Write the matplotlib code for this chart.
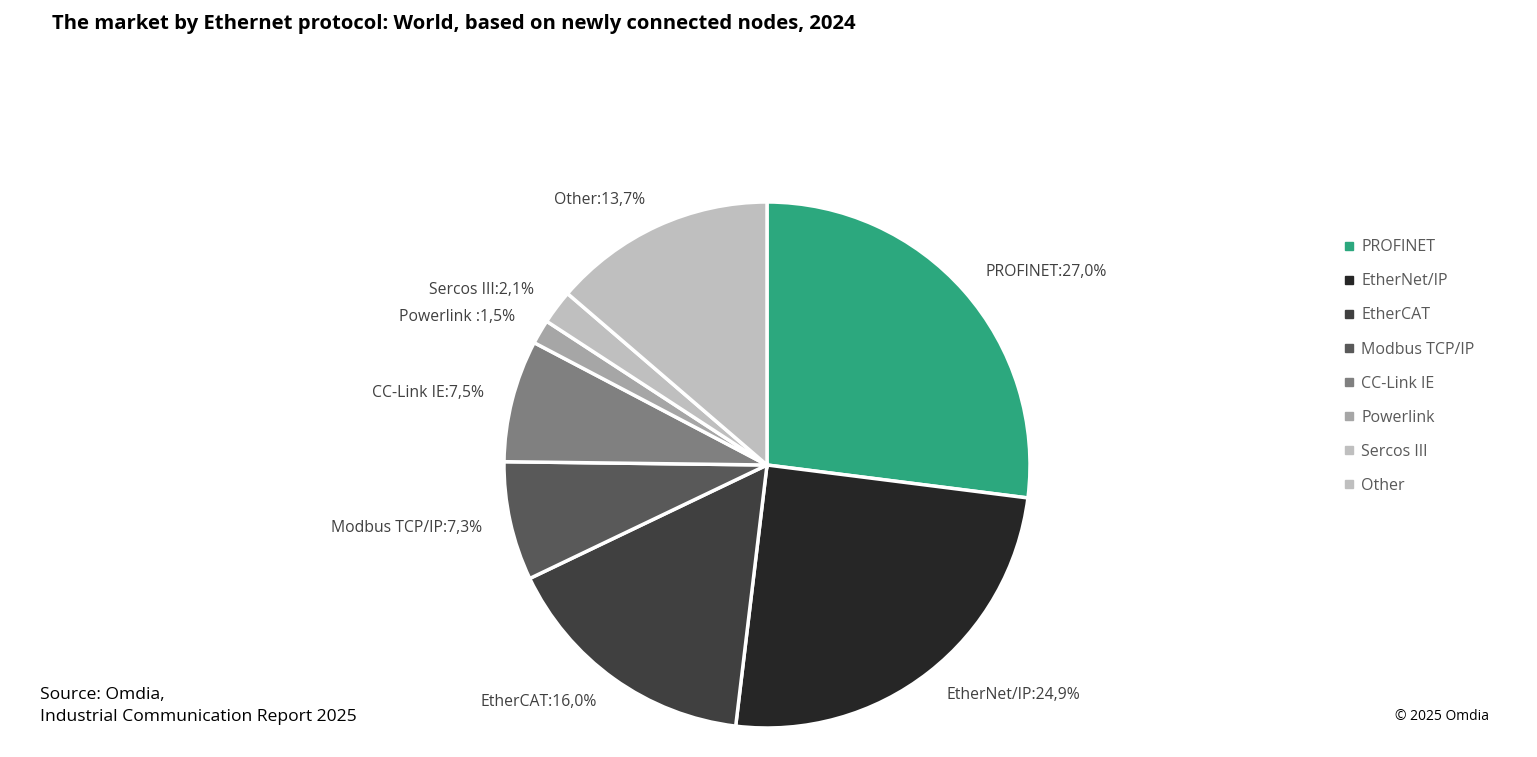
import matplotlib.pyplot as plt
from matplotlib.lines import Line2D

protocols = ['PROFINET', 'EtherNet/IP', 'EtherCAT', 'Modbus TCP/IP',
             'CC-Link IE', 'Powerlink', 'Sercos III', 'Other']
label_names = ['PROFINET', 'EtherNet/IP', 'EtherCAT', 'Modbus TCP/IP',
               'CC-Link IE', 'Powerlink ', 'Sercos III', 'Other']
shares = [27.0, 24.9, 16.0, 7.3, 7.5, 1.5, 2.1, 13.7]
colors = ['#2ca87e', '#262626', '#404040', '#595959',
          '#808080', '#a6a6a6', '#bfbfbf', '#bfbfbf']

plt.rcParams['font.family'] = ['Open Sans', 'DejaVu Sans']

W, H = 1537, 757
fig = plt.figure(figsize=(W / 100, H / 100), dpi=100)

# pie centre and radius in pixels
cx, cy, r = 767, 465, 263
ax = fig.add_axes([(cx - r) / W, (H - cy - r) / H, 2 * r / W, 2 * r / H])

labels = [f'{n}:{v:.1f}%'.replace('.', ',') for n, v in zip(label_names, shares)]
wedges, texts = ax.pie(shares, colors=colors, startangle=90, counterclock=False,
                       labels=labels, labeldistance=1.11,
                       wedgeprops=dict(edgecolor='white', linewidth=2.5),
                       textprops=dict(fontsize=11.3, color='#404040'))
ax.set_xlim(-1, 1)
ax.set_ylim(-1, 1)
ax.set_aspect('equal')
ax.axis('off')

handles = [Line2D([], [], marker='s', linestyle='none', markersize=5.5,
                  markerfacecolor=c, markeredgecolor=c) for c in colors]
leg = fig.legend(handles, protocols, loc='upper left',
                 bbox_to_anchor=(1338 / W, 1 - 233 / H), frameon=False,
                 handlelength=0.6, handletextpad=0.45, labelspacing=1.13,
                 fontsize=11.5, borderaxespad=0)
for t in leg.get_texts():
    t.set_color('#595959')

fig.text(52 / W, 1 - 24 / H,
         'The market by Ethernet protocol: World, based on newly connected nodes, 2024',
         fontsize=14.6, fontweight='bold', color='black', va='center')
fig.text(40 / W, 1 - 706 / H, 'Source: Omdia,\nIndustrial Communication Report 2025',
         fontsize=12.6, color='black', va='center', linespacing=1.5)
fig.text(1489 / W, 1 - 717 / H, '\u00a9 2025 Omdia', fontsize=10,
         color='black', ha='right', va='center')

fig.savefig('out.png', dpi=100, facecolor='white')
